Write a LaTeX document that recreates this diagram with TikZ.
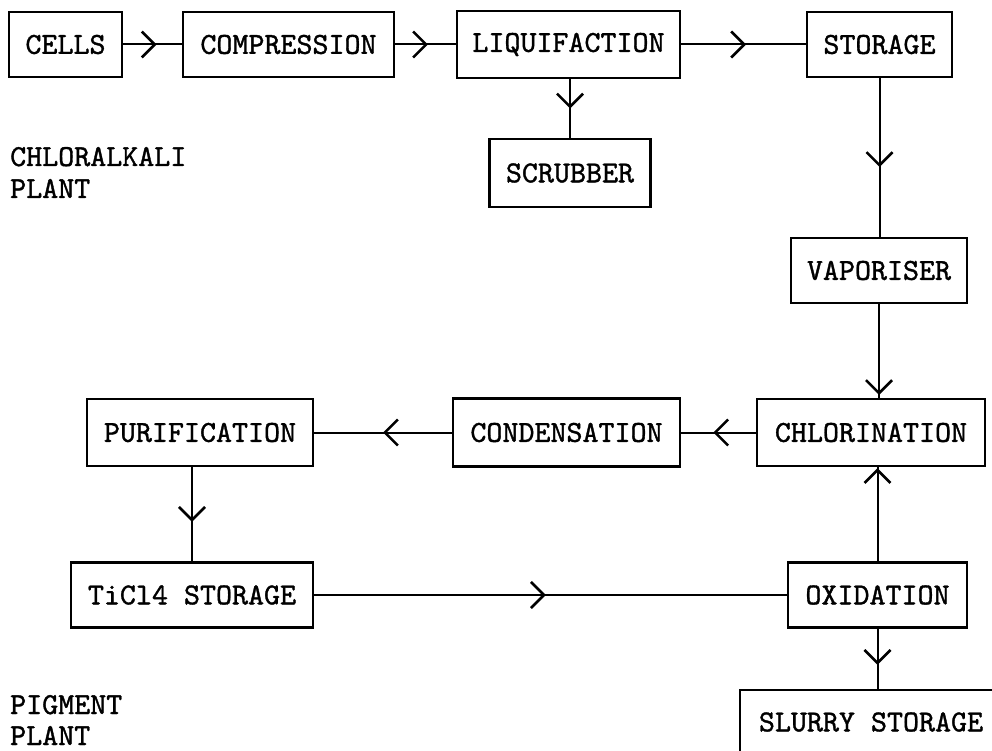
\documentclass[tikz,border=0pt]{standalone}
\usepackage{fontspec}
\usetikzlibrary{arrows.meta,decorations.markings}

% slightly heavier typewriter lettering used for every label
\newfontfamily\twfamily{lmmono10-regular.otf}[FakeBold=1.2]
\newcommand\twfont{\fontsize{30.5}{32}\selectfont\twfamily}

\tikzset{
  procbox/.style={draw, line width=2.4pt, inner sep=0pt, align=center,
                  minimum height=65pt, font=\twfont},
  plainlabel/.style={inner sep=0pt, anchor=base west, font=\twfont},
  conn/.style={line width=2pt},
  % connector with an open arrowhead part way along it
  flowto/.style={conn, postaction={decorate},
    decoration={markings, mark=at position #1 with
      {\arrow[line width=2.6pt]{Straight Barb[length=13pt,width=26pt]}}}},
}

\begin{document}
\begin{tikzpicture}[x=1pt,y=-1pt]
  \useasboundingbox (0,0) rectangle (992,751);
  \fill[white] (0,0) rectangle (992,751);
  \clip (0,0) rectangle (992,751);

  % chloralkali plant
  \node[procbox, minimum width=113pt] (cells) at (65.5,44.5) {CELLS};
  \node[procbox, minimum width=211pt] (comp)  at (288.5,44.5) {COMPRESSION};
  \node[procbox, minimum width=223pt, minimum height=67pt] (liq) at (568.5,44.5) {LIQUIFACTION};
  \node[procbox, minimum width=145pt] (stor)  at (879.5,44.5) {STORAGE};
  \node[procbox, minimum width=161pt, minimum height=68pt] (scrub) at (570,173) {SCRUBBER};
  \node[procbox, minimum width=176pt] (vap)   at (879,270.5) {VAPORISER};

  % pigment plant
  \node[procbox, minimum width=228pt, minimum height=67pt] (chl)  at (871,432.5) {CHLORINATION};
  \node[procbox, minimum width=227pt, minimum height=68pt] (cond) at (566.5,432.5) {CONDENSATION};
  \node[procbox, minimum width=226pt, minimum height=67pt] (pur)  at (200,432.5) {PURIFICATION};
  \node[procbox, minimum width=242pt] (ticl)  at (192,595) {TiCl4 STORAGE};
  \node[procbox, minimum width=179pt] (oxid)  at (877.5,595) {OXIDATION};
  \node[procbox, minimum width=262pt, minimum height=64pt] (slurry) at (871,722) {SLURRY STORAGE};

  % section labels
  \node[plainlabel] (chlA) at (10,166) {CHLORALKALI};
  \node[plainlabel] (chlB) at (10,198) {PLANT};
  \node[plainlabel] (pigA) at (10,714) {PIGMENT};
  \node[plainlabel] (pigB) at (10,745) {PLANT};

  % flows
  \draw[flowto=0.57] (cells.east) -- (comp.west);
  \draw[flowto=0.54] (comp.east) -- (liq.west);
  \draw[flowto=0.52] (liq.east) -- (stor.west);
  \draw[flowto=0.50] (scrub.north |- liq.south) -- (scrub.north);
  \draw[flowto=0.56] (stor.south) -- (stor.south |- vap.north);
  \draw[flowto=0.97] (vap.south) -- (vap.south |- chl.north);
  \draw[flowto=0.57] (chl.west) -- (cond.east);
  \draw[flowto=0.50] (cond.west) -- (pur.east);
  \draw[flowto=0.58] (ticl.north |- pur.south) -- (ticl.north);
  \draw[flowto=0.49] (ticl.east) -- (oxid.west);
  \draw[flowto=0.99] (oxid.north) -- (oxid.north |- chl.south);
  \draw[flowto=0.60] (oxid.south) -- (oxid.south |- slurry.north);
\end{tikzpicture}
\end{document}
